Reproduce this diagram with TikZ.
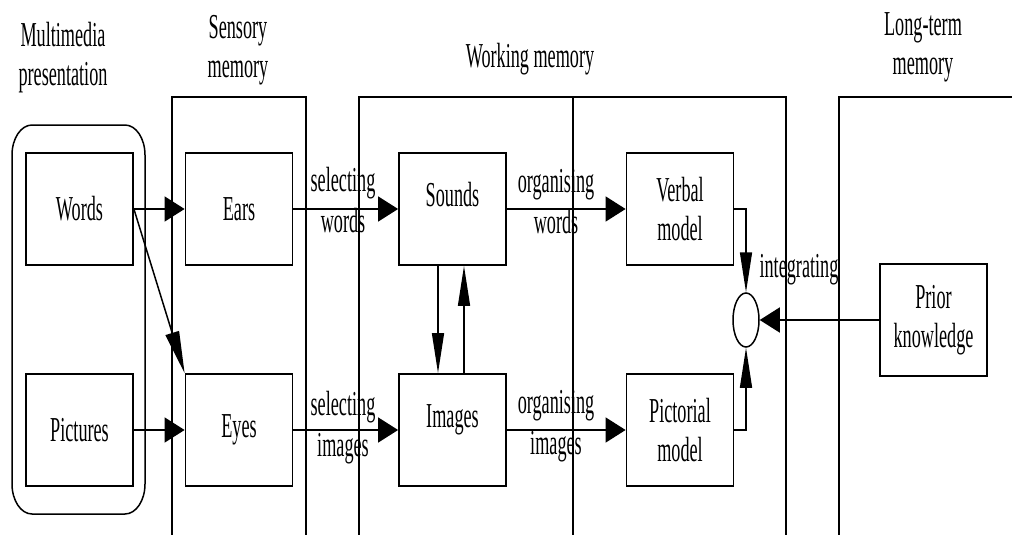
\documentclass[tikz,border=0pt]{standalone}
\usepackage{fontspec}
\setmainfont{Liberation Serif}[FakeStretch=0.52]
\usetikzlibrary{arrows.meta,shapes.geometric}

\begin{document}
\begin{tikzpicture}[x=1pt,y=-1pt,
  every node/.style={font=\fontsize{35}{39}\selectfont, align=center, inner sep=0pt},
  flowlabel/.style={font=\fontsize{35}{41}\selectfont},
  box/.style={draw, line width=1.8pt, minimum width=107pt, minimum height=112pt},
  raisedtext/.style={text height=24pt, text depth=30pt},
  zone/.style={line width=1.6pt},
  harrow/.style={line width=1.5pt, -{Triangle[length=20pt,width=25pt]}},
  varrow/.style={line width=1.5pt, -{Triangle[length=40pt,width=12pt]}},
  darrow/.style={line width=1.5pt, -{Triangle[length=42pt,width=14pt]}},
  mergering/.style={draw, ellipse, line width=1.5pt, minimum width=26pt, minimum height=54pt}
]
\useasboundingbox (0,0) rectangle (1012,535);

% column headings
\node (hdrmm)   at (63,58)  {Multimedia\\presentation};
\node (hdrsens) at (238,50) {Sensory\\memory};
\node (hdrwork) at (530,59) {Working memory};
\node (hdrlong) at (923,47) {Long-term\\memory};

% memory regions, open at the bottom
\draw[zone] (172,535) |- (306,97) -- (306,535);
\draw[zone] (359,535) |- (786,97) -- (786,535);
\draw[zone] (573,97) -- (573,535);
\draw[zone] (839,535) |- (1012,97);

% presentation frame with rounded corners
\draw[line width=1.5pt] (32,125) -- (125,125)
  arc[start angle=-90, end angle=0, x radius=20, y radius=30] -- (145,484)
  arc[start angle=0, end angle=90, x radius=20, y radius=30] -- (32,514)
  arc[start angle=90, end angle=180, x radius=20, y radius=30] -- (12,155)
  arc[start angle=180, end angle=270, x radius=20, y radius=30] -- cycle;

% boxes
\node[box] (words)     at (79.5,209) {Words};
\node[box] (pictures)  at (79.5,430) {Pictures};
\node[box] (ears)      at (239,209)  {Ears};
\node[box] (eyes)      at (239,430)  {Eyes};
\node[box,raisedtext] (sounds) at (452.5,209) {Sounds};
\node[box,raisedtext] (images) at (452.5,430) {Images};
\node[box] (verbal)    at (680,209)  {Verbal\\model};
\node[box] (pictorial) at (680,430)  {Pictorial\\model};
\node[box] (prior)     at (933.5,320) {Prior\\knowledge};
\node[mergering] (merge) at (746,320) {};

% arrow labels
\node[flowlabel] (selw) at (343,200.5) {selecting\\words};
\node[flowlabel] (seli) at (343,427.5) {selecting\\images};
\node[flowlabel] (orgw) at (556,201.5) {organising\\words};
\node[flowlabel] (orgi) at (556,426) {organising\\images};
\node (integ) at (799,270) {integrating};

% connectors
\draw[harrow] (words.east) -- (ears.west);
\draw[darrow] (words.east) -- (eyes.north west);
\draw[harrow] (pictures.east) -- (eyes.west);
\draw[harrow] (ears.east) -- (sounds.west);
\draw[harrow] (eyes.east) -- (images.west);
\draw[harrow] (sounds.east) -- (verbal.west);
\draw[harrow] (images.east) -- (pictorial.west);
\draw[varrow] ([xshift=-14.5pt]sounds.south) -- ([xshift=-14.5pt]images.north);
\draw[varrow] ([xshift=11.5pt]images.north) -- ([xshift=11.5pt]sounds.south);
\draw[varrow] (verbal.east) -| (merge.north);
\draw[varrow] (pictorial.east) -| (merge.south);
\draw[harrow] (prior.west) -- (merge.east);
\end{tikzpicture}
\end{document}
